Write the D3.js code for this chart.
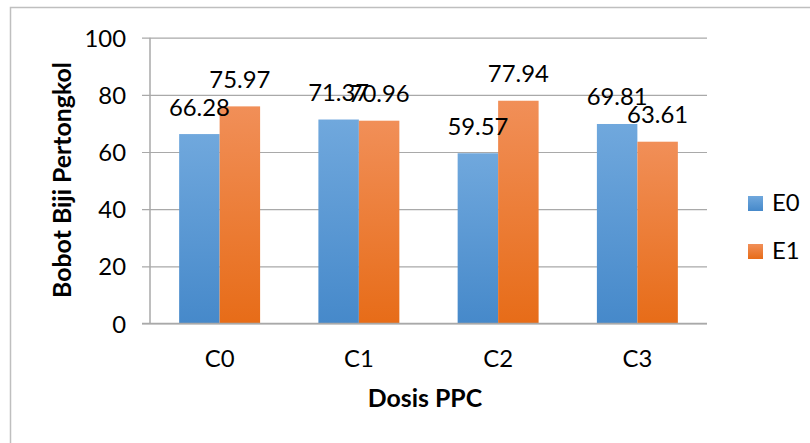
<!DOCTYPE html>
<html><head><meta charset="utf-8">
<script src="https://cdn.jsdelivr.net/npm/d3@7"></script>
<style>
html,body{margin:0;padding:0;background:#fff;}
text{font-family:Lato,"Open Sans",sans-serif;fill:#000;}
</style></head>
<body><svg id="c" width="810" height="443"></svg>
<script>
const categories = ["C0","C1","C2","C3"];
const seriesNames = ["E0","E1"];
const E0 = [66.28, 71.37, 59.57, 69.81];
const E1 = [75.97, 70.96, 77.94, 63.61];
const yTicks = [0,20,40,60,80,100];
const yTitle = "Bobot Biji Pertongkol";
const xTitle = "Dosis PPC";

const svg = d3.select("#c");
const W = 810, H = 443;
const L = 150, R = 707, T = 37.7, B = 323.5;

function fitSize(txt, weight, target){
  const t = svg.append("text").attr("font-size",100).attr("font-weight",weight).text(txt);
  const w = t.node().getComputedTextLength(); t.remove();
  return 100*target/w;
}
const fsReg = fitSize("66.28","normal",61);
const fsBold = fitSize(yTitle,"bold",236);

// gradients
const defs = svg.append("defs");
const grads = {E0:["#70a8dd","#4689ca"], E1:["#f18f58","#e76c18"]};
Object.entries(grads).forEach(([k,c])=>{
  const g = defs.append("linearGradient").attr("id","g"+k).attr("x1",0).attr("y1",0).attr("x2",0).attr("y2",1);
  g.append("stop").attr("offset","0%").attr("stop-color",c[0]);
  g.append("stop").attr("offset","100%").attr("stop-color",c[1]);
});

// border
svg.append("rect").attr("x",10.5).attr("y",7.5).attr("width",W).attr("height",H)
  .attr("fill","none").attr("stroke","#bfbfbf").attr("stroke-width",1.5);

const y = d3.scaleLinear().domain([0,100]).range([B,T]);
const x = d3.scaleBand().domain(categories).range([L,R]).padding(0);
const xs = d3.scaleBand().domain(seriesNames).range([0,x.bandwidth()]).paddingInner(0).paddingOuter(0.72);

// y axis with gridlines
const ya = svg.append("g").attr("transform",`translate(142,0)`)
  .call(d3.axisLeft(y).tickValues(yTicks).tickSize(-(R-142)).tickPadding(16).tickFormat(d3.format("d")));
ya.select(".domain").remove();
ya.selectAll(".tick line").attr("stroke","#a9a9a9").attr("stroke-width",1.2);
ya.selectAll(".tick text").attr("font-size",fsReg).attr("font-family","Lato").attr("fill","#000").attr("dy","0.36em");

// vertical axis line
svg.append("line").attr("x1",L).attr("x2",L).attr("y1",y(100)).attr("y2",y(0))
  .attr("stroke","#a9a9a9").attr("stroke-width",1.5);

const data = categories.map((c,i)=>({cat:c, vals:[{s:"E0",v:E0[i]},{s:"E1",v:E1[i]}]}));

const groups = svg.selectAll("g.cat").data(data).join("g").attr("class","cat")
  .attr("transform",d=>`translate(${x(d.cat)},0)`);
groups.selectAll("rect").data(d=>d.vals).join("rect")
  .attr("x",d=>xs(d.s)).attr("width",xs.bandwidth())
  .attr("y",d=>y(d.v)).attr("height",d=>y(0)-y(d.v))
  .attr("fill",d=>`url(#g${d.s})`);

// baseline
svg.append("line").attr("x1",142).attr("x2",R).attr("y1",B).attr("y2",B)
  .attr("stroke","#a9a9a9").attr("stroke-width",1.5);

// data labels
groups.selectAll("text.lbl").data(d=>d.vals).join("text").attr("class","lbl")
  .attr("x",d=>xs(d.s)+xs.bandwidth()/2).attr("y",d=>y(d.v)-18.5)
  .attr("text-anchor","middle").attr("font-size",fsReg)
  .text(d=>d3.format(".2f")(d.v));

// x axis labels
const xa = svg.append("g").attr("transform",`translate(0,${B})`)
  .call(d3.axisBottom(x).tickSize(0).tickPadding(0));
xa.select(".domain").remove();
xa.selectAll(".tick text").attr("font-size",fsReg).attr("font-family","Lato").attr("fill","#000")
  .attr("dy",null).attr("y",367-B);

// titles
svg.append("text").attr("x",425).attr("y",407).attr("text-anchor","middle")
  .attr("font-weight","bold").attr("font-size",fsBold).text(xTitle);
svg.append("text").attr("transform",`translate(71,180) rotate(-90)`).attr("text-anchor","middle")
  .attr("font-weight","bold").attr("font-size",fsBold).text(yTitle);

// legend
const lg = svg.selectAll("g.lg").data(seriesNames).join("g").attr("class","lg")
  .attr("transform",(d,i)=>`translate(748,${196+i*48})`);
lg.append("rect").attr("width",15).attr("height",15).attr("fill",d=>`url(#g${d})`);
lg.append("text").attr("x",24).attr("y",15).attr("font-size",fsReg).text(d=>d);
</script></body></html>
